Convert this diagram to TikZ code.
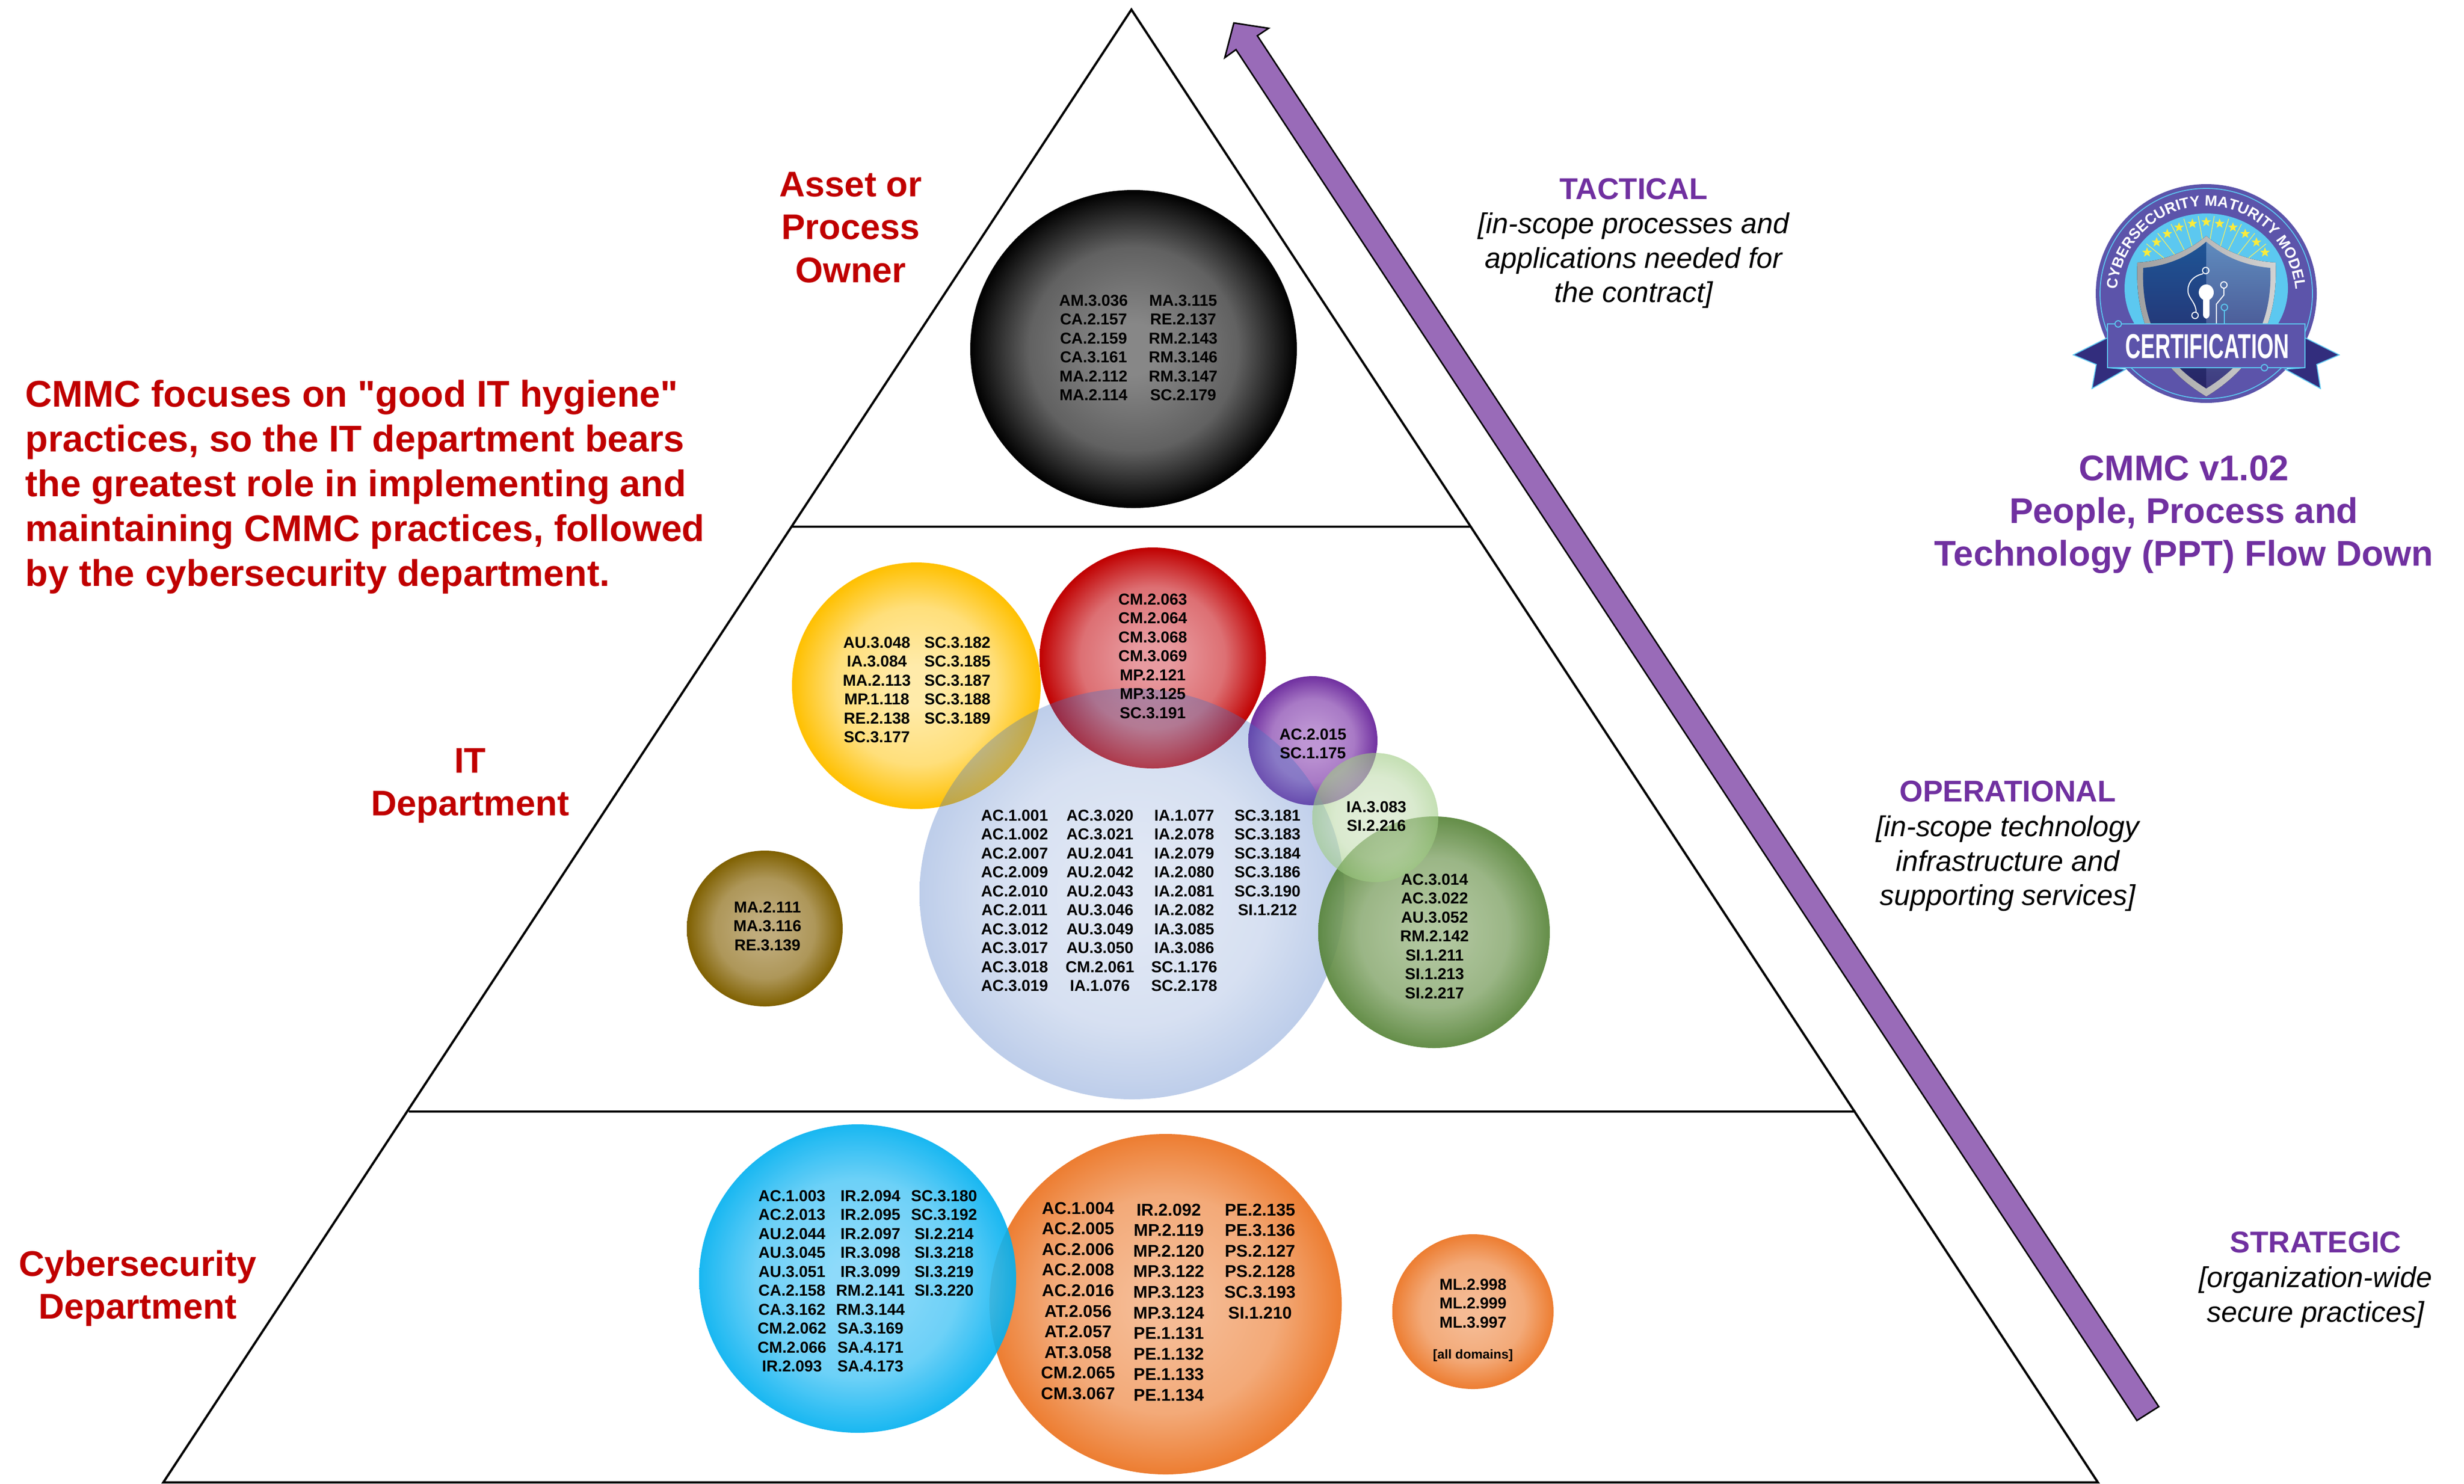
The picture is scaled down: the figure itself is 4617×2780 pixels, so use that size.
\documentclass[tikz,border=0pt]{standalone}
\usepackage{fontspec}
\setmainfont{Liberation Sans}
\newfontfamily\rawsans{Liberation Sans}
\usetikzlibrary{shapes.geometric,decorations.text}
\definecolor{headred}{RGB}{192,0,0}
\definecolor{headpurple}{RGB}{112,48,160}
\definecolor{arrowpurple}{RGB}{153,107,184}
\definecolor{logoviolet}{RGB}{92,84,170}
\definecolor{logosky}{RGB}{92,200,240}
\definecolor{logodark}{RGB}{50,45,125}
\definecolor{shieldleft}{RGB}{30,85,150}
\definecolor{shieldright}{RGB}{95,140,190}
\definecolor{starcolor}{RGB}{250,235,60}
\definecolor{raycolor}{RGB}{235,235,110}
\newcommand\declball[7]{%
  \definecolor{#1in}{RGB}{#2,#3,#4}\definecolor{#1out}{RGB}{#5,#6,#7}%
  \colorlet{#1mid}{#1in!72!#1out}%
  \pgfdeclareradialshading{#1}{\pgfpoint{0bp}{0bp}}{color(0bp)=(#1in); color(4bp)=(#1in); color(16bp)=(#1mid); color(25bp)=(#1out); color(50bp)=(#1out)}}
\declball{ballblack}{135}{135}{135}{0}{0}{0}
\declball{ballyellow}{255}{235}{170}{255}{192}{0}
\declball{ballred}{232}{155}{160}{192}{0}{0}
\declball{ballpurple}{190}{150}{212}{112}{48}{160}
\declball{ballblue}{169}{189}{226}{68}{114}{196}
\declball{balllight}{207}{227}{192}{158}{203}{130}
\declball{ballgreen}{168}{192}{148}{84}{130}{53}
\declball{ballbrown}{192}{172}{124}{127}{96}{0}
\declball{ballcyan}{130}{215}{250}{0}{176}{240}
\declball{ballorange}{245}{187}{148}{237}{125}{49}
\newcommand\idcol[4]{\node[idtext,anchor=north] (#1) at (#2,#3-11) {#4};}
\newcommand\idcolb[4]{\node[idtextb,anchor=north] (#1) at (#2,#3-12) {#4};}
\tikzset{
  x=0.01cm,y=-0.01cm,
  idtext/.style={inner sep=0pt,align=center,font=\fontsize{8.45pt}{10.08pt}\selectfont\bfseries},
  idtextb/.style={inner sep=0pt,align=center,font=\fontsize{9.1pt}{10.98pt}\selectfont\bfseries},
  redhead/.style={inner sep=0pt,align=center,text=headred,font=\fontsize{19pt}{22.8pt}\selectfont\bfseries},
  levelhead/.style={inner sep=0pt,text=headpurple,font=\fontsize{16pt}{21pt}\selectfont\bfseries},
  leveltext/.style={inner sep=0pt,align=center,font=\fontsize{15.3pt}{18.3pt}\selectfont\itshape},
  pyramid/.style={line width=1.2pt,black},
  flowarrow/.style={fill=arrowpurple,draw=black,line width=0.8pt,line join=miter},
  tailstyle/.style={draw=logosky,line width=0.5pt},
  circuit/.style={draw=white,line width=0.55pt},
}
\begin{document}
\begin{tikzpicture}
\useasboundingbox (0,0) rectangle (4617,2780);
\fill[white] (0,0) rectangle (4617,2780);
% pyramid
\coordinate (apex) at (2120,18);
\coordinate (bl) at (306,2778);
\coordinate (br) at (3931,2778);
\coordinate (ul) at (1482,987);
\coordinate (ur) at (2756,987);
\coordinate (ml) at (766,2083);
\coordinate (mr) at (3477,2083);
\draw[pyramid,line join=miter] (apex) -- (bl) -- (br) -- cycle;
\draw[pyramid] (ul) -- (ur);
\draw[pyramid] (ml) -- (mr);
% arrow
\draw[flowarrow] (2312,43) -- (2377,53) -- (2356,67) -- (4045,2636) -- (4004,2662) -- (2316,93) -- (2295,108) -- cycle;
% bubbles
\shade[shading=ballblack] (2124,654) ellipse [x radius=306,y radius=298];
\shade[shading=ballyellow] (1717,1285) ellipse [x radius=233,y radius=231];
\shade[shading=ballred] (2160,1233) ellipse [x radius=212,y radius=207];
\shade[shading=ballpurple] (2460,1388) ellipse [x radius=121,y radius=121];
\shade[shading=ballblue,fill opacity=0.35] (2121,1675) ellipse [x radius=398,y radius=385];
\shade[shading=ballgreen,fill opacity=0.9] (2687,1747) ellipse [x radius=217,y radius=217];
\shade[shading=balllight,fill opacity=0.6] (2577,1532) ellipse [x radius=118,y radius=121];
\shade[shading=ballbrown] (1433,1740) ellipse [x radius=146,y radius=146];
\shade[shading=ballorange] (2184,2444) ellipse [x radius=330,y radius=319];
\shade[shading=ballcyan,fill opacity=0.9] (1607,2396) ellipse [x radius=297,y radius=289];
\shade[shading=ballorange] (2760,2458) ellipse [x radius=151,y radius=145];
% practice lists
\idcol{k1}{2049}{563}{AM.3.036\\CA.2.157\\CA.2.159\\CA.3.161\\MA.2.112\\MA.2.114}
\idcol{k2}{2217}{563}{MA.3.115\\RE.2.137\\RM.2.143\\RM.3.146\\RM.3.147\\SC.2.179}
\idcol{y1}{1643}{1204}{AU.3.048\\IA.3.084\\MA.2.113\\MP.1.118\\RE.2.138\\SC.3.177}
\idcol{y2}{1794}{1204}{SC.3.182\\SC.3.185\\SC.3.187\\SC.3.188\\SC.3.189}
\idcol{r1}{2160}{1123}{CM.2.063\\CM.2.064\\CM.3.068\\CM.3.069\\MP.2.121\\MP.3.125\\SC.3.191}
\idcol{p1}{2460}{1376}{AC.2.015\\SC.1.175}
\idcol{l1}{2579}{1512}{IA.3.083\\SI.2.216}
\idcol{g1}{2688}{1648}{AC.3.014\\AC.3.022\\AU.3.052\\RM.2.142\\SI.1.211\\SI.1.213\\SI.2.217}
\idcol{n1}{1438}{1700}{MA.2.111\\MA.3.116\\RE.3.139}
\idcol{b1}{1901}{1528}{AC.1.001\\AC.1.002\\AC.2.007\\AC.2.009\\AC.2.010\\AC.2.011\\AC.3.012\\AC.3.017\\AC.3.018\\AC.3.019}
\idcol{b2}{2061}{1528}{AC.3.020\\AC.3.021\\AU.2.041\\AU.2.042\\AU.2.043\\AU.3.046\\AU.3.049\\AU.3.050\\CM.2.061\\IA.1.076}
\idcol{b3}{2219}{1528}{IA.1.077\\IA.2.078\\IA.2.079\\IA.2.080\\IA.2.081\\IA.2.082\\IA.3.085\\IA.3.086\\SC.1.176\\SC.2.178}
\idcol{b4}{2375}{1528}{SC.3.181\\SC.3.183\\SC.3.184\\SC.3.186\\SC.3.190\\SI.1.212}
\idcol{c1}{1484}{2241}{AC.1.003\\AC.2.013\\AU.2.044\\AU.3.045\\AU.3.051\\CA.2.158\\CA.3.162\\CM.2.062\\CM.2.066\\IR.2.093}
\idcol{c2}{1631}{2241}{IR.2.094\\IR.2.095\\IR.2.097\\IR.3.098\\IR.3.099\\RM.2.141\\RM.3.144\\SA.3.169\\SA.4.171\\SA.4.173}
\idcol{c3}{1769}{2241}{SC.3.180\\SC.3.192\\SI.2.214\\SI.3.218\\SI.3.219\\SI.3.220}
\idcolb{o1}{2020}{2264}{AC.1.004\\AC.2.005\\AC.2.006\\AC.2.008\\AC.2.016\\AT.2.056\\AT.2.057\\AT.3.058\\CM.2.065\\CM.3.067}
\idcolb{o2}{2190}{2267}{IR.2.092\\MP.2.119\\MP.2.120\\MP.3.122\\MP.3.123\\MP.3.124\\PE.1.131\\PE.1.132\\PE.1.133\\PE.1.134}
\idcolb{o3}{2361}{2267}{PE.2.135\\PE.3.136\\PS.2.127\\PS.2.128\\SC.3.193\\SI.1.210}
\idcol{m1}{2760}{2407}{ML.2.998\\ML.2.999\\ML.3.997}
\node[inner sep=0pt,font=\fontsize{6.9pt}{8pt}\selectfont\bfseries] (m2) at (2760,2540) {[all domains]};
% headings
\node[redhead,anchor=north west,align=left,font=\rawsans\fontsize{19.8pt}{23.9pt}\selectfont\bfseries] (intro) at (47,711) {CMMC focuses on "good IT hygiene"\\practices, so the IT department bears\\the greatest role in implementing and\\maintaining CMMC practices, followed\\by the cybersecurity department.};
\node[redhead,anchor=north] (owner) at (1594,322) {Asset or\\Process\\Owner};
\node[redhead,anchor=north] (itdept) at (881,1402) {IT\\Department};
\node[redhead,anchor=north] (cyber) at (258,2342) {Cybersecurity\\Department};
\node[levelhead] (tact) at (3061,354) {TACTICAL};
\node[leveltext,anchor=north] (tactx) at (3061,398) {[in-scope processes and\\applications needed for\\the contract]};
\node[levelhead] (oper) at (3762,1483) {OPERATIONAL};
\node[leveltext,anchor=north] (operx) at (3762,1528) {[in-scope technology\\infrastructure and\\supporting services]};
\node[levelhead] (strat) at (4339,2328) {STRATEGIC};
\node[leveltext,anchor=north] (stratx) at (4339,2373) {[organization-wide\\secure practices]};
\node[inner sep=0pt,anchor=north,align=center,text=headpurple,font=\fontsize{19pt}{22.7pt}\selectfont\bfseries] (ppt) at (4092,853) {CMMC v1.02\\People, Process and\\Technology (PPT) Flow Down};
% logo
\fill[logoviolet] (4134,550) ellipse [x radius=207,y radius=205];
\draw[logosky,line width=0.5pt] (4134,550) ellipse [x radius=199,y radius=197];
\fill[logosky] (4134,540) ellipse [x radius=153,y radius=140];
\path[decorate,decoration={text along path,text align=center,
  text={|\fontsize{8pt}{8pt}\selectfont\bfseries\color{white}|CYBERSECURITY MATURITY MODEL}}]
  (3966,558) arc [start angle=180,end angle=360,x radius=168,y radius=172];
\foreach \xa/\ya/\xb/\yb [count=\r] in {4022/457/4059/487,4043/437/4077/480,4068/420/4095/473,4092/410/4108/463,4119/405/4127/450,4246/457/4209/487,4225/437/4191/480,4200/420/4173/473,4176/410/4160/463,4149/405/4141/450}
  \draw[raycolor,line width=0.4pt] (\xa,\ya) -- (\xb,\yb);
\foreach \sx/\sy [count=\s] in {4023/473,4041/454,4061/438,4083/426,4108/419,4134/416,4159/419,4184/426,4207/438,4228/454,4244/473}
  \node[star,star points=5,star point ratio=2.4,fill=starcolor,inner sep=0pt,minimum size=5.5pt] (st\s) at (\sx,\sy) {};
\fill[left color=gray!75,right color=gray!35] (4134,442) .. controls (4100,472) and (4050,490) .. (4005,492) .. controls (4000,590) and (4030,680) .. (4134,743) .. controls (4238,680) and (4268,590) .. (4264,492) .. controls (4218,490) and (4168,472) .. (4134,442) -- cycle;
\shade[top color=shieldleft,bottom color=logodark!80!black] (4134,453) .. controls (4100,482) and (4060,498) .. (4016,502) .. controls (4012,590) and (4040,670) .. (4134,728) -- cycle;
\shade[top color=shieldright,bottom color=logodark!85!gray] (4134,453) .. controls (4168,482) and (4208,498) .. (4254,502) .. controls (4258,590) and (4228,670) .. (4134,728) -- cycle;
\draw[circuit] (4128,513) .. controls (4105,518) and (4098,535) .. (4100,548) .. controls (4102,560) and (4115,568) .. (4115,585);
\draw[circuit] (4133,507) circle [radius=6];
\draw[circuit] (4113,591) circle [radius=6];
\draw[circuit] (4167,540) -- (4167,553) -- (4153,570) -- (4153,607);
\draw[circuit] (4167,534) circle [radius=6];
\draw[draw=logosky,line width=0.55pt] (4168,582) -- (4168,607);
\draw[draw=logosky,line width=0.55pt] (4168,576) circle [radius=6];
\fill[white] (4134,548) ellipse [x radius=14,y radius=15];
\fill[white,rounded corners=2pt] (4128,550) rectangle (4140,597);
\fill[logodark,tailstyle] (3949,633) -- (3885,665) -- (3928,683) -- (3920,728) -- (3983,692) -- (3949,689) -- cycle;
\fill[logodark,tailstyle] (4319,633) -- (4383,665) -- (4341,683) -- (4348,728) -- (4282,692) -- (4319,689) -- cycle;
\fill[logoviolet,tailstyle] (3949,607) rectangle (4319,689);
\fill[logoviolet] (3969,607) circle [radius=6];
\draw[logosky,line width=0.55pt] (3969,607) circle [radius=6];
\fill[logoviolet] (4243,689) circle [radius=6];
\draw[logosky,line width=0.55pt] (4243,689) circle [radius=6];
\node[inner sep=0pt,text=white,xscale=0.62,transform shape,font=\fontsize{18.4pt}{20pt}\selectfont\bfseries] (cert) at (4136,649) {CERTIFICATION};
\end{tikzpicture}
\end{document}
